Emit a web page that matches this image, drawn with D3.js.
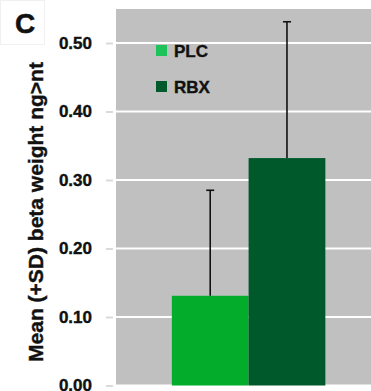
<!DOCTYPE html>
<html>
<head>
<meta charset="utf-8">
<script src="https://cdn.jsdelivr.net/npm/d3@7"></script>
<style>
  body { margin: 0; background: #fff; }
  text { font-family: "Liberation Sans", Arial, sans-serif; font-weight: bold; }
</style>
</head>
<body>
<div id="chart"></div>
<script>
// data
const groups = ['PLC', 'RBX'];
const means = [0.131, 0.332];
const sds = [0.154, 0.199];
const colors = ['#03ad2b', '#00592a'];
const legendColors = ['#1ec25a', '#005a2c'];
const yTicks = [0.00, 0.10, 0.20, 0.30, 0.40, 0.50];

const W = 371, H = 391;
const plot = {left: 116, right: 371, top: 9, bottom: 386};

const svg = d3.select('#chart').append('svg')
  .attr('width', W)
  .attr('height', H);

const y = d3.scaleLinear()
  .domain([0, 0.5])
  .range([385.5, 43]);

// the pair of bars sits a bit right of the plot centre
const x = d3.scaleBand()
  .domain(groups)
  .range([plot.left + 0.219 * (plot.right - plot.left), plot.left + 0.821 * (plot.right - plot.left)])
  .padding(0);

// grey plot area
svg.append('rect')
  .attr('x', plot.left)
  .attr('y', plot.top)
  .attr('width', plot.right - plot.left)
  .attr('height', plot.bottom - plot.top)
  .attr('fill', '#c0c0c0');

// white grid lines
svg.append('g')
  .selectAll('line')
  .data(yTicks)
  .join('line')
  .attr('x1', plot.left)
  .attr('x2', plot.right)
  .attr('y1', d => y(d))
  .attr('y2', d => y(d))
  .attr('stroke', '#ffffff')
  .attr('stroke-width', 2);

// y axis: small grey ticks + bold labels
const yAxis = svg.append('g')
  .attr('transform', `translate(${plot.left - 3}, 0)`)
  .call(d3.axisLeft(y).tickValues(yTicks).tickFormat(d3.format('.2f')).tickSize(7).tickPadding(14));
yAxis.select('.domain').remove();
yAxis.selectAll('.tick line').attr('stroke', '#dadada').attr('stroke-width', 2);
yAxis.selectAll('.tick text')
  .attr('fill', '#111')
  .attr('stroke', '#111')
  .attr('stroke-width', 0.4)
  .style('font-size', '17px')
  .style('font-family', '"Liberation Sans", Arial, sans-serif')
  .style('font-weight', 'bold');

// bars
svg.append('g')
  .selectAll('rect')
  .data(groups)
  .join('rect')
  .attr('x', d => x(d))
  .attr('y', (d, i) => y(means[i]))
  .attr('width', x.bandwidth())
  .attr('height', (d, i) => y(0) - y(means[i]))
  .attr('fill', (d, i) => colors[i]);

// error bars (+SD only)
const err = svg.append('g');
groups.forEach((g, i) => {
  const cx = x(g) + x.bandwidth() / 2;
  err.append('line')
    .attr('x1', cx).attr('x2', cx)
    .attr('y1', y(means[i]))
    .attr('y2', y(means[i] + sds[i]))
    .attr('stroke', '#111')
    .attr('stroke-width', 1.6);
  err.append('line')
    .attr('x1', cx - 4).attr('x2', cx + 4)
    .attr('y1', y(means[i] + sds[i]))
    .attr('y2', y(means[i] + sds[i]))
    .attr('stroke', '#111')
    .attr('stroke-width', 1.6);
});

// legend
const legend = svg.append('g');
groups.forEach((g, i) => {
  legend.append('rect')
    .attr('x', 156)
    .attr('y', 45 + i * 36)
    .attr('width', 11)
    .attr('height', 11)
    .attr('fill', legendColors[i]);
  legend.append('text')
    .attr('x', 174)
    .attr('y', 57 + i * 36)
    .attr('fill', '#111')
    .attr('stroke', '#111')
    .attr('stroke-width', 0.4)
    .style('font-size', '17px')
    .text(g);
});

// y axis title
svg.append('text')
  .attr('transform', 'translate(43, 212) rotate(-90)')
  .attr('text-anchor', 'middle')
  .attr('fill', '#111')
  .attr('stroke', '#111')
  .attr('stroke-width', 0.4)
  .style('font-size', '21px')
  .text('Mean (+SD) beta weight ng>nt');

// panel letter
svg.append('rect')
  .attr('x', 0.5).attr('y', 0.5)
  .attr('width', 44).attr('height', 44)
  .attr('fill', '#fff')
  .attr('stroke', '#f0f0f0');
svg.append('text')
  .attr('x', 25)
  .attr('y', 33)
  .attr('text-anchor', 'middle')
  .attr('fill', '#111')
  .attr('stroke', '#111')
  .attr('stroke-width', 0.5)
  .style('font-size', '28px')
  .text('C');
</script>
</body>
</html>
